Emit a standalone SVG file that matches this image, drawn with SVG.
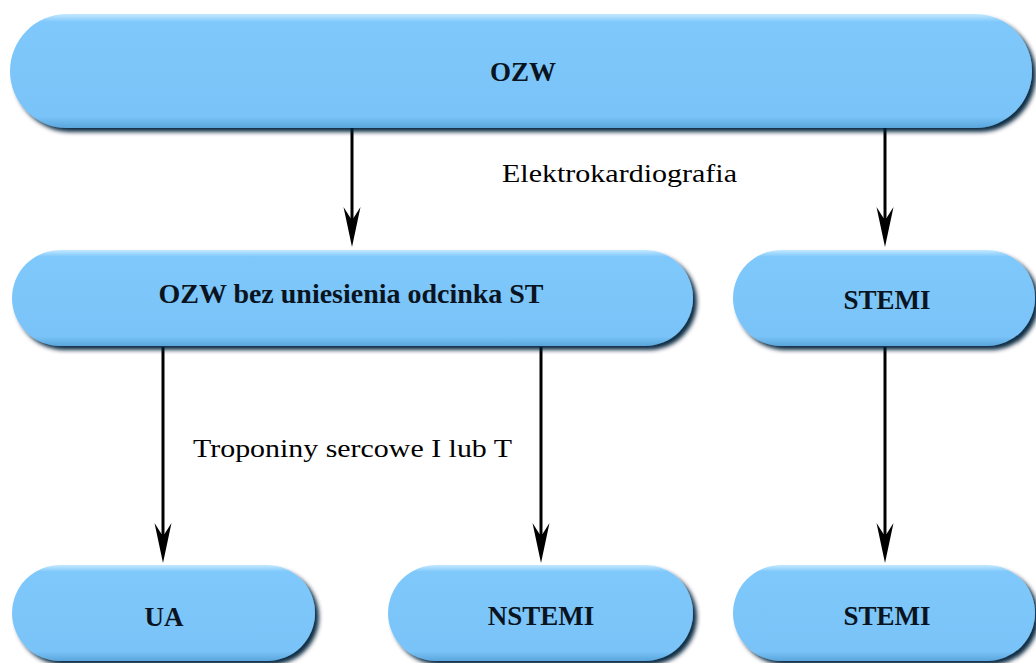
<svg xmlns="http://www.w3.org/2000/svg" width="1036" height="663" viewBox="0 0 1036 663">
  <defs>
    <linearGradient id="fillG" x1="0" y1="0" x2="0" y2="1">
      <stop offset="0" stop-color="#c4e9ff"/>
      <stop offset="0.07" stop-color="#7fc8fb"/>
      <stop offset="0.9" stop-color="#79c3f8"/>
      <stop offset="1" stop-color="#5aa6dc"/>
    </linearGradient>
    <filter id="shadow" x="-5%" y="-20%" width="115%" height="150%">
      <feGaussianBlur in="SourceAlpha" stdDeviation="2"/>
      <feOffset dx="4" dy="4" result="b"/>
      <feFlood flood-color="#06213a" flood-opacity="0.95"/>
      <feComposite in2="b" operator="in" result="s"/>
      <feMerge>
        <feMergeNode in="s"/>
        <feMergeNode in="SourceGraphic"/>
      </feMerge>
    </filter>
    <marker id="arrow" markerUnits="userSpaceOnUse" markerWidth="42" markerHeight="18" refX="15" refY="9" orient="auto" viewBox="0 0 42 18">
      <path d="M40,9 L0,0.5 L11,7.5 L11,10.5 L0,17.5 Z" fill="#000"/>
    </marker>
  </defs>
  <style>
    .node { fill: url(#fillG); filter: url(#shadow); }
    .nt { font-family: "Liberation Serif", "Times New Roman", serif; font-weight: bold; font-size: 27px; fill: #0a1420; text-anchor: middle; }
    .lbl { font-family: "Liberation Serif", "Times New Roman", serif; font-size: 26px; fill: #000; }
    .conn { stroke: #000; stroke-width: 3; fill: none; marker-end: url(#arrow); }
  </style>
  <rect width="1036" height="663" fill="#fff"/>

  <g id="connectors">
    <line class="conn" x1="352" y1="128" x2="352" y2="222"/>
    <line class="conn" x1="885" y1="128" x2="885" y2="222"/>
    <line class="conn" x1="163" y1="347" x2="163" y2="538"/>
    <line class="conn" x1="541" y1="347" x2="541" y2="538"/>
    <line class="conn" x1="885" y1="347" x2="885" y2="538"/>
  </g>

  <g id="node-ozw">
    <rect class="node" x="10" y="14" width="1022" height="114" rx="57" ry="57"/>
    <text class="nt" x="523" y="81">OZW</text>
  </g>
  <g id="node-nste">
    <rect class="node" x="12" y="250" width="681" height="96" rx="48" ry="48"/>
    <text class="nt" x="351" y="303" textLength="385" lengthAdjust="spacingAndGlyphs">OZW bez uniesienia odcinka ST</text>
  </g>
  <g id="node-stemi1">
    <rect class="node" x="733" y="250" width="302" height="96" rx="48" ry="48"/>
    <text class="nt" x="887" y="309">STEMI</text>
  </g>
  <g id="node-ua">
    <rect class="node" x="12" y="565" width="303" height="96" rx="48" ry="48"/>
    <text class="nt" x="164" y="626">UA</text>
  </g>
  <g id="node-nstemi">
    <rect class="node" x="388" y="565" width="305" height="96" rx="48" ry="48"/>
    <text class="nt" x="541" y="625">NSTEMI</text>
  </g>
  <g id="node-stemi2">
    <rect class="node" x="733" y="565" width="302" height="96" rx="48" ry="48"/>
    <text class="nt" x="887" y="625">STEMI</text>
  </g>

  <g id="labels">
    <text class="lbl" x="502" y="182" textLength="235" lengthAdjust="spacingAndGlyphs">Elektrokardiografia</text>
    <text class="lbl" x="193" y="457" textLength="319" lengthAdjust="spacingAndGlyphs">Troponiny sercowe I lub T</text>
  </g>
</svg>
